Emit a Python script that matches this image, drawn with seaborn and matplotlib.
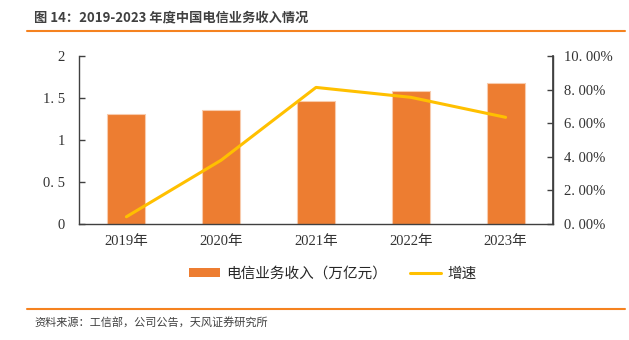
import matplotlib
matplotlib.use("Agg")
import matplotlib.pyplot as plt
import seaborn as sns
import pandas as pd
from matplotlib.lines import Line2D
from matplotlib.patches import Patch
from matplotlib.ticker import FuncFormatter

years = ["2019年", "2020年", "2021年", "2022年", "2023年"]
revenue = [1.31, 1.36, 1.47, 1.58, 1.68]
growth = [0.43, 3.8, 8.13, 7.54, 6.35]  # percent
left_ticks = [0, 0.5, 1, 1.5, 2]
right_ticks = [0, 2, 4, 6, 8, 10]

sns.set_theme(style="white")
serif = ["Liberation Serif", "Noto Sans CJK SC"]
cjk = ["Noto Sans CJK SC", "DejaVu Sans"]
plt.rcParams["font.family"] = cjk

df = pd.DataFrame({"year": years, "revenue": revenue, "growth": growth})

fig = plt.figure(figsize=(6.29, 3.40), dpi=100)
ax = fig.add_axes([79/629, 1-224/340, (553-79)/629, (224-56)/340])

sns.barplot(data=df, x="year", y="revenue", color="#ED7D31", saturation=1,
            width=0.4, edgecolor="#F8CBAD", linewidth=0.8, ax=ax)
ax.set_ylim(0, 2)
ax.set_xlim(-0.5, 4.5)
ax.set_yticks(left_ticks)
ax.set_yticklabels(["0", "0. 5", "1", "1. 5", "2"])
ax.set_xlabel("")
ax.set_ylabel("")
ax.set_xticks([0.5, 1.5, 2.5, 3.5], minor=True)
ax.set_xticks(range(5))
ax.tick_params(axis="x", which="major", length=0, pad=8)
ax.tick_params(axis="x", which="minor", direction="in", length=4, color="#404040", width=1)
ax.tick_params(axis="y", direction="in", length=4, color="#404040", width=1, pad=10)
for lab in ax.get_xticklabels() + ax.get_yticklabels():
    lab.set_family(serif)
    lab.set_fontsize(10.5)
    lab.set_color("#333333")
for s in ["top"]:
    ax.spines[s].set_visible(False)
for s in ["left", "bottom", "right"]:
    ax.spines[s].set_color("#404040")
    ax.spines[s].set_linewidth(1)

ax2 = ax.twinx()
sns.lineplot(x=list(range(5)), y=growth, color="#FFC000", linewidth=2.2, ax=ax2)
ax2.set_ylim(0, 10)
ax2.set_yticks(right_ticks)
ax2.yaxis.set_major_formatter(FuncFormatter(lambda v, p: f"{v:.2f}%".replace(".", ". ")))
ax2.tick_params(axis="y", direction="in", length=4, color="#404040", width=1, pad=8)
for lab in ax2.get_yticklabels():
    lab.set_family(serif)
    lab.set_fontsize(10.5)
    lab.set_color("#333333")
ax2.spines["top"].set_visible(False)
ax2.spines["right"].set_color("#404040")
ax2.spines["left"].set_visible(False)
ax2.spines["bottom"].set_visible(False)
ax2.set_xlim(-0.5, 4.5)

handles = [Patch(facecolor="#ED7D31", edgecolor="none"),
           Line2D([0], [0], color="#FFC000", linewidth=2.2)]
fig.legend(handles, ["电信业务收入（万亿元）", "增速"], loc="center",
           bbox_to_anchor=(333/629, 1-274/340), ncol=2, frameon=False,
           handlelength=2.1, handleheight=0.55, columnspacing=1.6, handletextpad=0.45,
           prop={"family": cjk, "size": 10.5})

fig.text(34/629, 1-17/340, "图 14：2019-2023 年度中国电信业务收入情况", fontsize=9.5,
         fontweight="bold", color="#404040", va="center", ha="left", family=cjk)
fig.add_artist(Line2D([27/629, 625/629], [1-30.5/340, 1-30.5/340], color="#F5821F", linewidth=1.5))
fig.add_artist(Line2D([27/629, 625/629], [1-308.5/340, 1-308.5/340], color="#F5821F", linewidth=1.5))
fig.text(34/629, 1-322/340, "资料来源：工信部，公司公告，天风证券研究所", fontsize=8,
         color="#404040", va="center", ha="left", family=cjk)

fig.savefig("out.png", dpi=100)
